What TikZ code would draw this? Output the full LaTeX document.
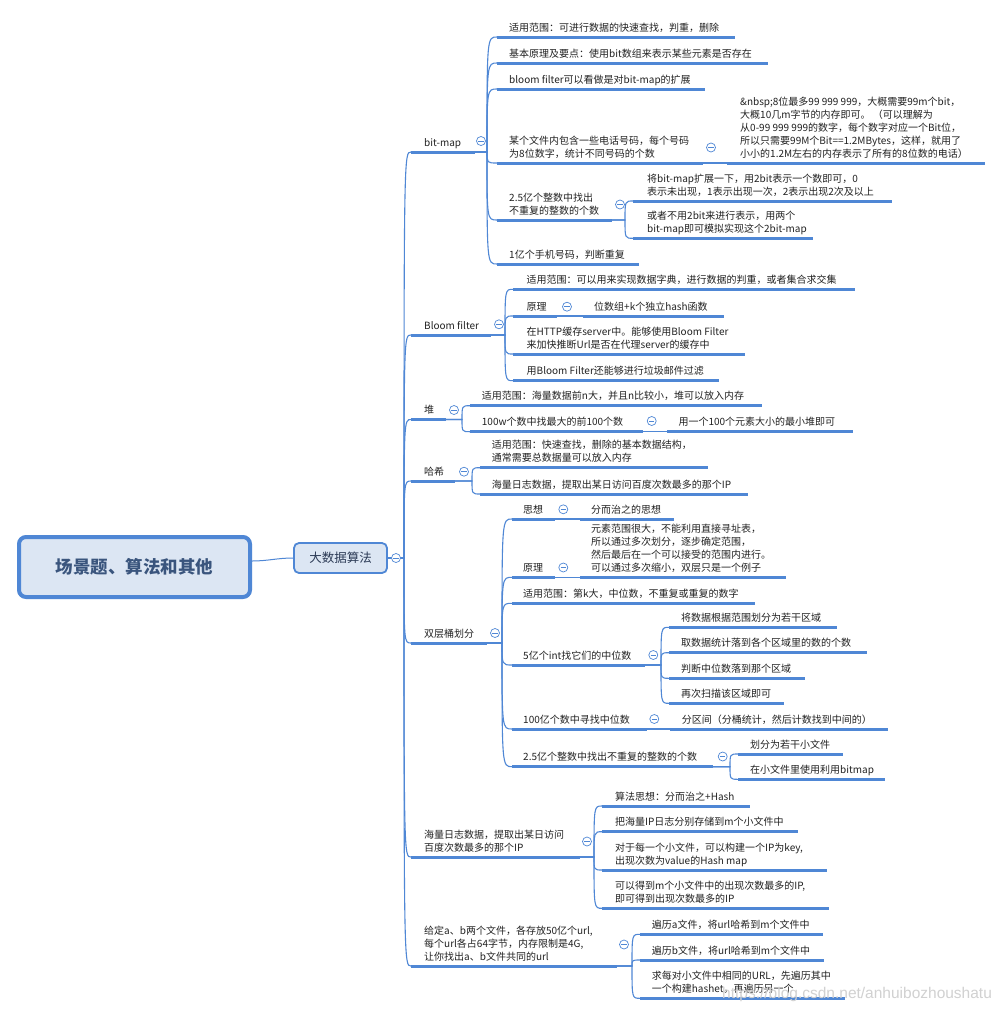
\documentclass[tikz,border=0pt]{standalone}
\usepackage{fontspec}
\setmainfont{Noto Sans CJK SC}
\newfontfamily\wmfont{Liberation Sans}
\definecolor{lb}{HTML}{4F87D5}
\definecolor{rootfill}{HTML}{DCE6F3}
\definecolor{roottext}{HTML}{3A557D}
\definecolor{bigtext}{HTML}{2B3A55}
\definecolor{txtc}{HTML}{222222}
\tikzset{
 uline/.style={draw=lb, line width=3pt},
 conn/.style={draw=lb, line width=1.1pt},
 txt/.style={anchor=south west, inner sep=0pt, align=left, text=txtc, font=\fontsize{10}{11.5}\selectfont},
 fold/.style={circle, draw=lb, fill=white, line width=0.7pt, minimum size=9pt, inner sep=0pt,
   path picture={\draw[lb, line width=0.7pt] ([xshift=-2.6pt]path picture bounding box.center) -- ([xshift=2.6pt]path picture bounding box.center);}},
}
% #1 name, #2 left x, #3 right x, #4 underline y, #5 text offset, #6 text
\newcommand\topic[6]{%
 \coordinate (#1-l) at (#2,#4);
 \coordinate (#1-r) at (#3,#4);
 \draw[uline] (#1-l) -- (#1-r);
 \node[txt] (#1) at ({#2+#5},{#4-2.25}) {\strut #6};
}
\newcommand\link[3]{\draw[conn] (#1-r) -- (#2) .. controls (#3-l -| #2) .. (#3-l);}
\newcommand\slink[2]{\draw[conn] (#1-r) -- (#2-l);}
\begin{document}
\begin{tikzpicture}[x=1pt,y=-1pt]
\fill[white] (0,0) rectangle (1006,1015);
\useasboundingbox (0,0) rectangle (1006,1015);

% root and main topic
\node[draw=lb, line width=4pt, fill=rootfill, rounded corners=7pt, minimum width=231pt, minimum height=60pt,
  text=roottext, font=\fontsize{17.5}{20}\selectfont\bfseries] (root) at (134.5,567) {场景题、算法和其他};
\node[draw=lb, line width=1.8pt, fill=rootfill, rounded corners=5pt, minimum width=93pt, minimum height=30pt,
  text=bigtext, font=\fontsize{12.5}{14}\selectfont] (big) at (340.5,558) {大数据算法};
\coordinate (big-r) at (big.east);
\draw[conn, line width=1pt] ([yshift=6pt]root.east) to[out=0,in=180] (big.west);

% hubs
\coordinate (hbig) at (404,558);
\coordinate (hbm) at (487,152);
\coordinate (hb5) at (625,220);
\coordinate (hbl) at (505,335);
\coordinate (hhp) at (462,419.5);
\coordinate (hhs) at (472,481);
\coordinate (hbk) at (502,643);
\coordinate (hk4) at (661,665);
\coordinate (hk6) at (730,766.7);
\coordinate (hlg) at (594,857);
\coordinate (hur) at (632,966);

% level 1
\topic{bitmap}{411}{475}{152}{13}{bit-map}
\topic{bloom}{411}{491}{335}{13}{Bloom filter}
\topic{heap}{411}{446}{419.5}{13}{堆}
\topic{hash}{411}{455}{481}{13}{哈希}
\topic{bucket}{411}{487}{643}{13}{双层桶划分}
\topic{log}{411}{580}{857}{13}{海量日志数据，提取出某日访问\\\strut 百度次数最多的那个IP}
\topic{url}{411}{617}{966}{13}{给定a、b两个文件，各存放50亿个url,\\\strut 每个url各占64字节，内存限制是4G,\\\strut 让你找出a、b文件共同的url}

% bit-map
\topic{b1}{497}{735}{37}{12}{适用范围：可进行数据的快速查找，判重，删除}
\topic{b2}{497}{768}{63}{12}{基本原理及要点：使用bit数组来表示某些元素是否存在}
\topic{b3}{497}{705}{89}{12}{bloom filter可以看做是对bit-map的扩展}
\topic{b4}{497}{703}{163}{12}{某个文件内包含一些电话号码，每个号码\\\strut 为8位数字，统计不同号码的个数}
\topic{b4a}{727}{985}{163}{13}{\&nbsp;8位最多99 999 999，大概需要99m个bit，\\\strut 大概10几m字节的内存即可。 （可以理解为\\\strut 从0-99 999 999的数字，每个数字对应一个Bit位，\\\strut 所以只需要99M个Bit==1.2MBytes，这样，就用了\\\strut 小小的1.2M左右的内存表示了所有的8位数的电话）}
\topic{b5}{497}{612}{220}{12}{2.5亿个整数中找出\\\strut 不重复的整数的个数}
\topic{b5a}{633}{892}{201}{14}{将bit-map扩展一下，用2bit表示一个数即可，0\\\strut 表示未出现，1表示出现一次，2表示出现2次及以上}
\topic{b5b}{633}{813}{238.3}{14}{或者不用2bit来进行表示，用两个\\\strut bit-map即可模拟实现这个2bit-map}
\topic{b6}{497}{639}{264}{12}{1亿个手机号码，判断重复}

% Bloom filter
\topic{f1}{513}{855}{289.3}{13.5}{适用范围：可以用来实现数据字典，进行数据的判重，或者集合求交集}
\topic{f2}{513}{557}{316}{13.5}{原理}
\topic{f2a}{583}{724}{316}{11}{位数组+k个独立hash函数}
\topic{f3}{513}{745}{354}{13.5}{在HTTP缓存server中。能够使用Bloom Filter\\\strut 来加快推断Url是否在代理server的缓存中}
\topic{f4}{513}{719}{380.7}{13.5}{用Bloom Filter还能够进行垃圾邮件过滤}

% heap
\topic{h1}{470}{762}{405.7}{11.7}{适用范围：海量数据前n大，并且n比较小，堆可以放入内存}
\topic{h2}{470}{643}{431.7}{11.7}{100w个数中找最大的前100个数}
\topic{h2a}{667}{853}{431.7}{11.3}{用一个100个元素大小的最小堆即可}

% hash
\topic{s1}{480}{708}{467.7}{11.7}{适用范围：快速查找，删除的基本数据结构，\\\strut 通常需要总数据量可以放入内存}
\topic{s2}{480}{748}{494}{11.7}{海量日志数据，提取出某日访问百度次数最多的那个IP}

% bucket
\topic{k1}{512}{555}{519}{11}{思想}
\topic{k1a}{580}{674}{519}{11}{分而治之的思想}
\topic{k2}{512}{555}{577.3}{11}{原理}
\topic{k2a}{580}{786}{577.3}{11}{元素范围很大，不能利用直接寻址表，\\\strut 所以通过多次划分，逐步确定范围，\\\strut 然后最后在一个可以接受的范围内进行。\\\strut 可以通过多次缩小，双层只是一个例子}
\topic{k3}{512}{755}{603.3}{11}{适用范围：第k大，中位数，不重复或重复的数字}
\topic{k4}{512}{645}{665}{11}{5亿个int找它们的中位数}
\topic{k4a}{669}{837}{627.3}{12}{将数据根据范围划分为若干区域}
\topic{k4b}{669}{867}{652.7}{12}{取数据统计落到各个区域里的数的个数}
\topic{k4c}{669}{805}{678.3}{12}{判断中位数落到那个区域}
\topic{k4d}{669}{784}{703.3}{12}{再次扫描该区域即可}
\topic{k5}{512}{647}{729}{11}{100亿个数中寻找中位数}
\topic{k5a}{670}{888}{729}{11.7}{分区间（分桶统计，然后计数找到中间的）}
\topic{k6}{512}{713}{766.7}{11}{2.5亿个整数中找出不重复的整数的个数}
\topic{k6a}{738}{843}{754}{12}{划分为若干小文件}
\topic{k6b}{738}{885}{779.3}{12}{在小文件里使用利用bitmap}

% log
\topic{g1}{602}{750}{806}{13}{算法思想：分而治之+Hash}
\topic{g2}{602}{798}{831.7}{13}{把海量IP日志分别存储到m个小文件中}
\topic{g3}{602}{827}{870}{13}{对于每一个小文件，可以构建一个IP为key,\\\strut 出现次数为value的Hash map}
\topic{g4}{602}{829}{908.3}{13}{可以得到m个小文件中的出现次数最多的IP,\\\strut 即可得到出现次数最多的IP}

% url
\topic{u1}{640}{823}{934.3}{11.7}{遍历a文件，将url哈希到m个文件中}
\topic{u2}{640}{824}{960}{11.7}{遍历b文件，将url哈希到m个文件中}
\topic{u3}{640}{845}{998.3}{11.7}{求每对小文件中相同的URL，先遍历其中\\\strut 一个构建hashet，再遍历另一个}

% connectors
\foreach \c in {bitmap,bloom,heap,hash,bucket,log,url} {\link{big}{hbig}{\c}}
\foreach \c in {b1,b2,b3,b4,b5,b6} {\link{bitmap}{hbm}{\c}}
\slink{b4}{b4a}
\foreach \c in {b5a,b5b} {\link{b5}{hb5}{\c}}
\foreach \c in {f1,f2,f3,f4} {\link{bloom}{hbl}{\c}}
\slink{f2}{f2a}
\foreach \c in {h1,h2} {\link{heap}{hhp}{\c}}
\slink{h2}{h2a}
\foreach \c in {s1,s2} {\link{hash}{hhs}{\c}}
\foreach \c in {k1,k2,k3,k4,k5,k6} {\link{bucket}{hbk}{\c}}
\slink{k1}{k1a}
\slink{k2}{k2a}
\foreach \c in {k4a,k4b,k4c,k4d} {\link{k4}{hk4}{\c}}
\slink{k5}{k5a}
\foreach \c in {k6a,k6b} {\link{k6}{hk6}{\c}}
\foreach \c in {g1,g2,g3,g4} {\link{log}{hlg}{\c}}
\foreach \c in {u1,u2,u3} {\link{url}{hur}{\c}}

% fold buttons
\node[fold] (fd1) at (396,558) {};
\node[fold] (fd2) at (481,141) {};
\node[fold] (fd3) at (711,147.5) {};
\node[fold] (fd4) at (620,204.5) {};
\node[fold] (fd5) at (499,324.3) {};
\node[fold] (fd6) at (567,306.7) {};
\node[fold] (fd7) at (454,410) {};
\node[fold] (fd8) at (651.7,421) {};
\node[fold] (fd9) at (464,471.7) {};
\node[fold] (fd10) at (495,633) {};
\node[fold] (fd11) at (563.3,509.3) {};
\node[fold] (fd12) at (563.3,567.5) {};
\node[fold] (fd13) at (653.3,655) {};
\node[fold] (fd14) at (654.3,719) {};
\node[fold] (fd15) at (722.7,756.5) {};
\node[fold] (fd16) at (587,841.5) {};
\node[fold] (fd17) at (624,944.5) {};

% watermark
\node[anchor=base west, inner sep=0pt, text=black!18, font=\wmfont\fontsize{15.5}{16}\selectfont] (wm) at (722,998.5) {https://blog.csdn.net/anhuibozhoushatu};
\end{tikzpicture}
\end{document}
